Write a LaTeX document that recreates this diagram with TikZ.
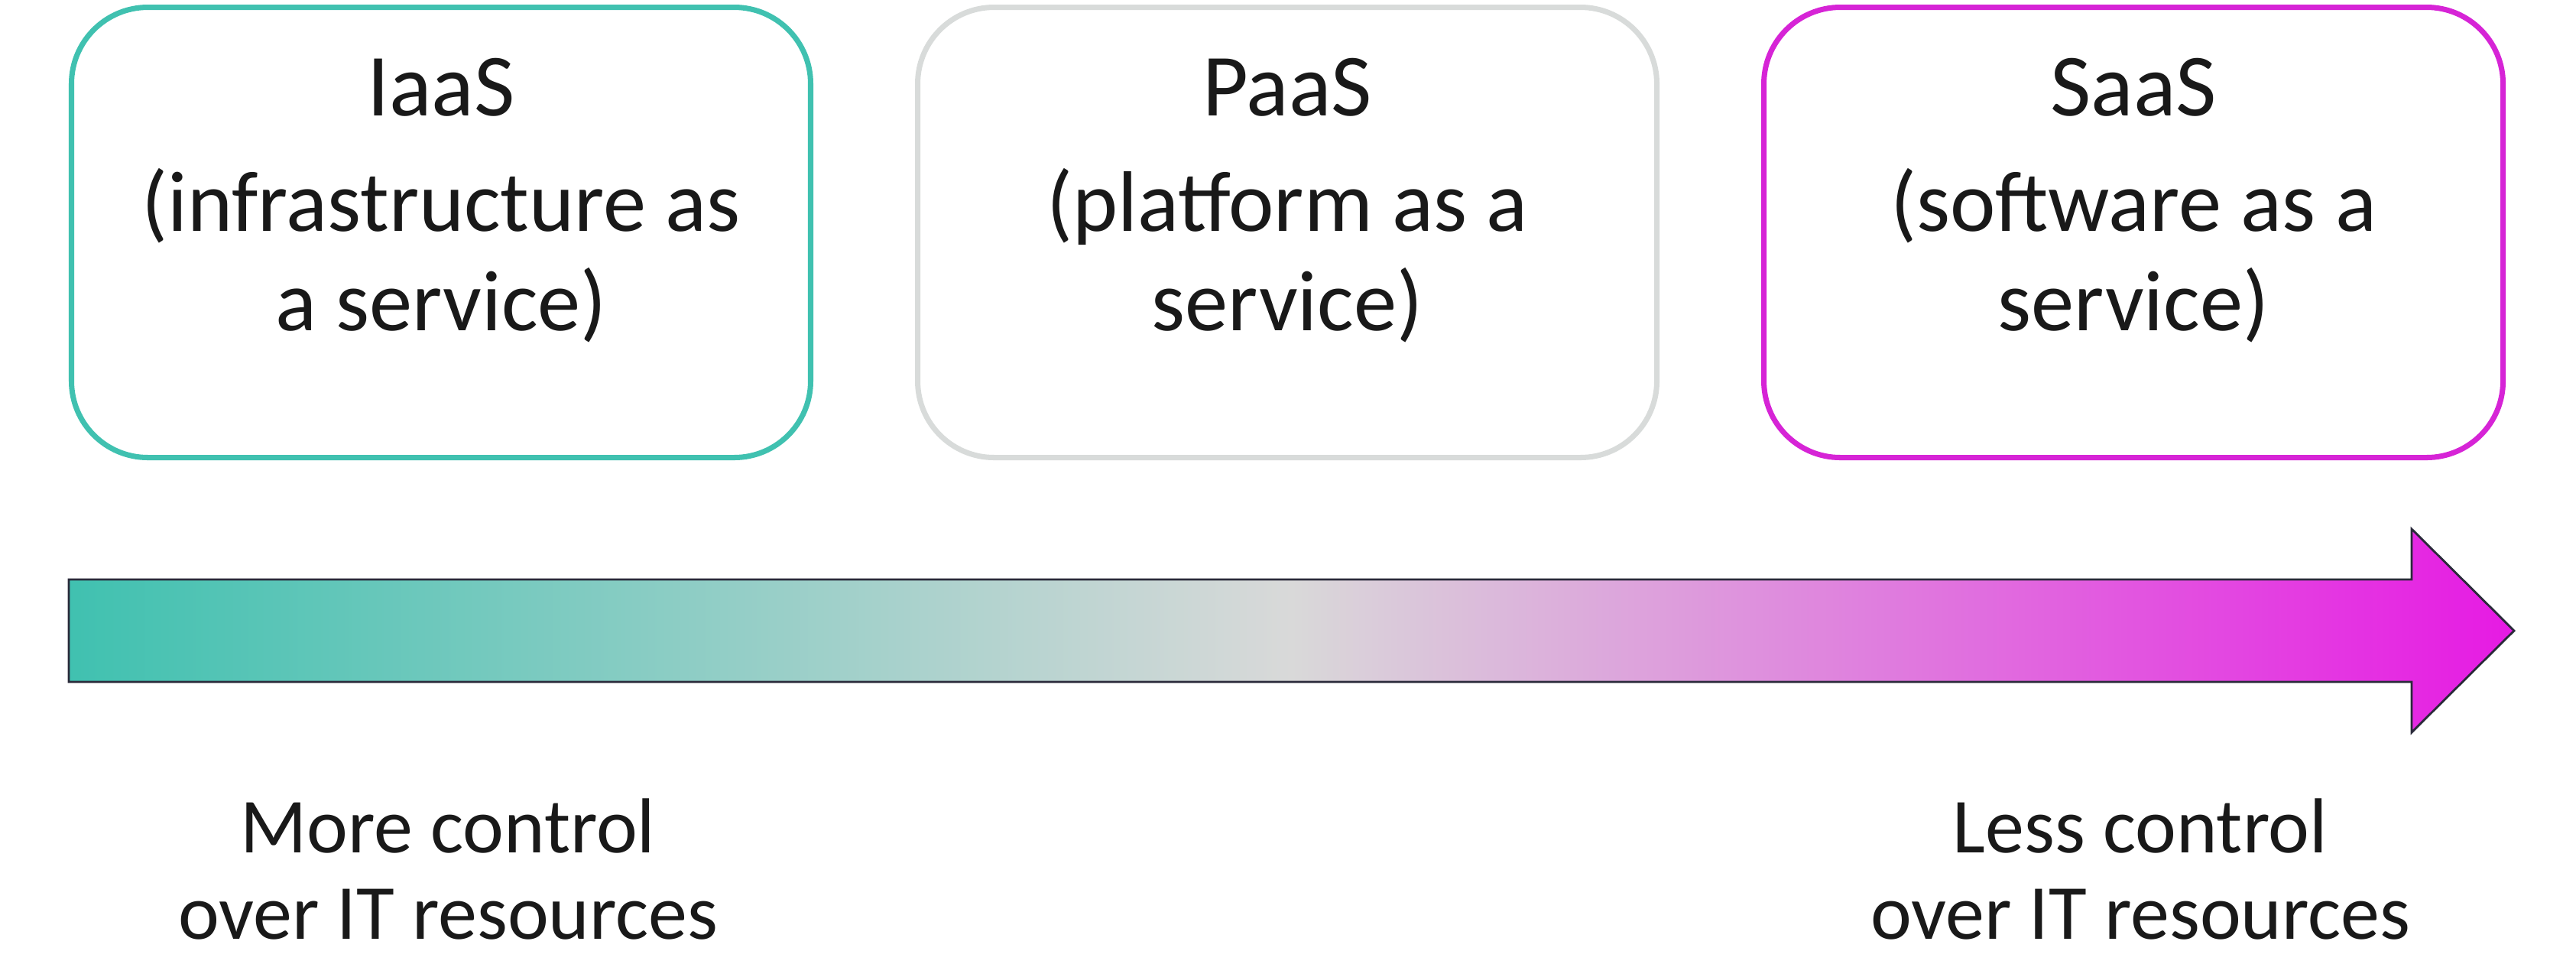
\documentclass[tikz,border=0pt]{standalone}
\usepackage{fontspec}
\setmainfont{Carlito}
\usetikzlibrary{positioning}

\definecolor{iaasgreen}{HTML}{40C1B0}
\definecolor{paasgray}{HTML}{D8DBDA}
\definecolor{saaspink}{HTML}{D624D6}
\definecolor{rampend}{HTML}{E61AE3}
\definecolor{rampmid}{HTML}{D9D9D9}
\definecolor{rampline}{HTML}{2A2A3A}

\begin{document}
\begin{tikzpicture}[
    node distance = 5mm and 1.33cm,
    kasse/.style = {rectangle, draw, rounded corners=1cm, line width=2pt,
                    minimum width=9.67cm, minimum height=5.89cm, inner sep=0pt},
    tekst/.style = {align=center, text=black!90, font=\fontsize{32}{37}\selectfont},
    fod/.style = {align=center, text=black!90, font=\fontsize{29}{32}\selectfont},
    pil/.style = {draw=rampline, line width=0.8pt, line join=miter,
                  left color=iaasgreen, right color=rampend, middle color=rampmid},
    ]
  \useasboundingbox (0,0) rectangle (33.7,-12.6);

  % the three service boxes
  \node[kasse, draw=iaasgreen] (iaas) at (5.77,-3.04) {} ;
  \node[kasse, draw=paasgray] (paas) [right=of iaas] {} ;
  \node[kasse, draw=saaspink] (saas) [right=of paas] {} ;

  \node[tekst] (iaasT) at ([yshift=-2.56cm]iaas.north)
    {{\fontsize{33}{37}\selectfont IaaS}\\[6pt](infrastructure as\\a service)} ;
  \node[tekst] (paasT) at ([yshift=-2.56cm]paas.north)
    {{\fontsize{33}{37}\selectfont PaaS}\\[6pt](platform as a\\service)} ;
  \node[tekst] (saasT) at ([yshift=-2.56cm]saas.north)
    {{\fontsize{33}{37}\selectfont SaaS}\\[6pt](software as a\\service)} ;

  % the control arrow
  \draw[pil] (0.90,-7.58) -- (31.55,-7.58) -- (31.55,-6.92) -- (32.89,-8.25)
    -- (31.55,-9.58) -- (31.55,-8.92) -- (0.90,-8.92) -- cycle ;

  \node[fod] (more) at (5.86,-11.37) {More control\\over IT resources} ;
  \node[fod] (less) at (28.00,-11.37) {Less control\\over IT resources} ;

\end{tikzpicture}
\end{document}
